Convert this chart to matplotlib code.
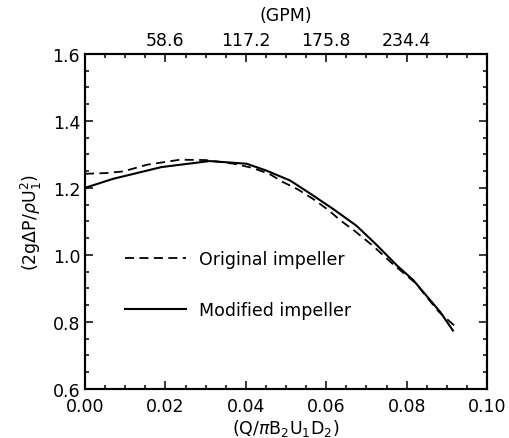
import numpy as np
import matplotlib
matplotlib.use("Agg")
from matplotlib import pyplot as plt
from matplotlib.ticker import MultipleLocator, FormatStrFormatter

# flow coefficient vs head coefficient
q_orig = [0.0, 0.005, 0.0095, 0.0154, 0.0236, 0.030, 0.037, 0.0415, 0.0458, 0.0493,
          0.053, 0.0567, 0.0604, 0.0636, 0.067, 0.0715, 0.0766, 0.082, 0.088, 0.0922]
h_orig = [1.242, 1.244, 1.249, 1.269, 1.284, 1.283, 1.272, 1.260, 1.242, 1.217,
          1.195, 1.167, 1.135, 1.102, 1.072, 1.028, 0.972, 0.918, 0.830, 0.785]

q_mod = [0.0, 0.007, 0.019, 0.031, 0.0402, 0.045, 0.051, 0.056, 0.0617, 0.0675,
         0.0725, 0.0776, 0.0816, 0.0883, 0.0915]
h_mod = [1.200, 1.227, 1.262, 1.280, 1.272, 1.252, 1.222, 1.183, 1.137, 1.087,
         1.030, 0.968, 0.925, 0.830, 0.774]

gpm_pos = [0.02, 0.04, 0.06, 0.08]
gpm_labels = ["58.6", "117.2", "175.8", "234.4"]

plt.rcParams['font.family'] = 'DejaVu Sans'
plt.rcParams['mathtext.fontset'] = 'dejavusans'

fig = plt.figure(figsize=(5.09, 4.39), dpi=100)
ax = fig.add_axes([0.167, 0.112, 0.790, 0.763])

ax.plot(q_orig, h_orig, color='black', lw=1.3, dashes=(5, 3), label='Original impeller')
ax.plot(q_mod, h_mod, color='black', lw=1.5, label='Modified impeller')

ax.set_xlim(0, 0.10)
ax.set_ylim(0.6, 1.6)
ax.xaxis.set_major_locator(MultipleLocator(0.02))
ax.xaxis.set_minor_locator(MultipleLocator(0.005))
ax.yaxis.set_major_locator(MultipleLocator(0.2))
ax.yaxis.set_minor_locator(MultipleLocator(0.05))
ax.xaxis.set_major_formatter(FormatStrFormatter('%.2f'))
ax.yaxis.set_major_formatter(FormatStrFormatter('%.1f'))
ax.tick_params(which='both', direction='in', right=True, labelsize=12.5, width=1.1)
ax.tick_params(which='major', length=6)
ax.tick_params(which='minor', length=3)
ax.tick_params(axis='x', which='both', top=False, pad=6)
for s in ax.spines.values():
    s.set_linewidth(1.5)

ax.set_xlabel(r'$(\mathrm{Q}/\pi\mathrm{B_2U_1D_2})$', fontsize=12.5, labelpad=1)
ax.set_ylabel(r'$(\mathrm{2g\Delta P}/\rho\mathrm{U_1^2})$', fontsize=12.5, labelpad=6)

top = ax.twiny()
top.set_xlim(ax.get_xlim())
top.set_xticks(gpm_pos)
top.set_xticklabels(gpm_labels)
top.xaxis.set_minor_locator(MultipleLocator(0.005))
top.tick_params(which='both', direction='in', labelsize=12.5, width=1.1)
top.tick_params(which='major', length=6)
top.tick_params(which='minor', length=3)
top.set_xlabel('(GPM)', fontsize=12.5, labelpad=8)
for s in top.spines.values():
    s.set_linewidth(1.5)

ax.legend(loc='upper left', bbox_to_anchor=(0.06, 0.46), frameon=False,
          fontsize=12.5, handlelength=3.5, handletextpad=0.8, labelspacing=1.9)

fig.savefig('out.png', dpi=100)
